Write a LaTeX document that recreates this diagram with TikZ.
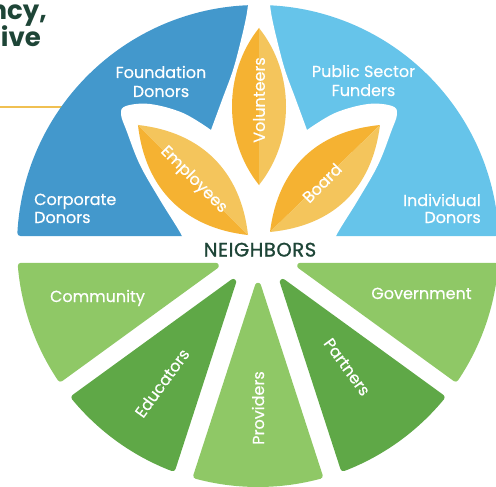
\documentclass[tikz,border=0pt]{standalone}
\usepackage{fontspec}
\setmainfont{Poppins}
\newfontfamily\lblfont{Poppins}[FakeBold=0.4]
\newfontfamily\hubfont{Poppins}[FakeBold=1.2,LetterSpace=3]
\usetikzlibrary{calc}
\definecolor{dblue}{HTML}{4398CC}
\definecolor{lblue}{HTML}{66C4EA}
\definecolor{lgreen}{HTML}{8FC866}
\definecolor{dgreen}{HTML}{5FA847}
\definecolor{dorange}{HTML}{F5B232}
\definecolor{lorange}{HTML}{F4C55C}
\definecolor{ink}{HTML}{1E4537}
\definecolor{rulecol}{HTML}{F0C052}
% green wedge: #1 start angle, #2 inset, #3 end angle, #4 inset, #5 colour, #6 name
\newcommand\gwedge[6]{%
  \pgfmathsetmacro\gwA{#2+3}\pgfmathsetmacro\gwB{#4+3}\pgfmathsetmacro\gwR{241-3}%
  \pgfmathsetmacro\gwD{sin(#3-#1)}%
  \pgfmathsetmacro\gwX{(\gwA*cos(#3)+\gwB*cos(#1))/\gwD}%
  \pgfmathsetmacro\gwY{(\gwA*sin(#3)+\gwB*sin(#1))/\gwD}%
  \pgfmathsetmacro\gwS{#1+asin(\gwA/\gwR)}%
  \pgfmathsetmacro\gwE{#3-asin(\gwB/\gwR)}%
  \filldraw[fill=#5,draw=#5,line width=6pt,line join=round]
    ($(C)+(\gwX,\gwY)$) coordinate (#6) -- ($(C)+(\gwS:\gwR)$)
    arc[start angle=\gwS,end angle=\gwE,radius=\gwR] -- cycle;}
% leaf: #1 cx, #2 cy, #3 rotation, #4 half length, #5 half width
\newcommand\drawleaf[5]{%
  \begin{scope}[shift={(#1,#2)},rotate=#3]
    \pgfmathsetmacro\lfc{#5/0.75}\pgfmathsetmacro\lfx{\lfc*1.25}%
    \fill[dorange] (-#4,0) .. controls ({-#4+\lfx},{-\lfc}) and ({#4-\lfx},{-\lfc}) .. (#4,0) -- cycle;
    \fill[lorange] (-#4,0) .. controls ({-#4+\lfx},{\lfc}) and ({#4-\lfx},{\lfc}) .. (#4,0) -- cycle;
  \end{scope}}
\tikzset{
  lbl/.style={text=white,font=\lblfont\fontsize{16}{16}\selectfont,inner sep=0pt},
  hub/.style={text=ink,font=\hubfont\fontsize{19.5}{19.5}\selectfont,inner sep=0pt},
  title/.style={text=ink,font=\fontsize{26}{26}\selectfont\bfseries,inner sep=0pt}
}
\begin{document}
\begin{tikzpicture}[x=1pt,y=-1pt]
\useasboundingbox (0,0) rectangle (496,487);
\clip (0,0) rectangle (496,487);
\coordinate (C) at (258,246);
% heading fragment and rule
\node[title,anchor=base east] (t1) at (47,20) {ncy,};
\node[title,anchor=base east] (t2) at (41,47) {tive};
\draw[rulecol,line width=2.5pt] (0,107) -- (120,107);
% blue halves
\filldraw[fill=dblue,draw=dblue,line width=6pt,line join=round]
  (258.5,233) -- ($(C)+(183.13:238)$) arc[start angle=183.13,end angle=270,radius=238] -- cycle;
\filldraw[fill=lblue,draw=lblue,line width=6pt,line join=round]
  (258.5,233) -- ($(C)+(270:238)$) arc[start angle=270,end angle=356.87,radius=238] -- cycle;
% white space around the petals
\fill[white]
  plot[smooth,tension=0.6] coordinates {(186,252) (182,236) (160,200) (140,165) (127,132) (121,114) (126,106) (150,104) (183,113) (211,130)}
  -- plot[smooth,tension=0.6] coordinates {(211,130) (222,100) (233,70) (241,40) (246,18) (248,5) (249,-3)}
  -- plot[smooth,tension=0.6] coordinates {(269,-3) (270,5) (272,18) (277,40) (285,70) (296,100) (307,130)}
  -- plot[smooth,tension=0.6] coordinates {(307,130) (335,113) (368,104) (392,106) (397,114) (391,132) (378,165) (358,200) (336,236) (332,252)}
  -- cycle;
% petals
\drawleaf{259}{106.5}{90}{78.5}{27}
\drawleaf{193}{180}{135}{77.8}{30}
\drawleaf{325}{178.5}{44.2}{76.7}{30}
% green wedges
\gwedge{144}{5.8}{180}{16.8}{lgreen}{wcom}
\gwedge{108}{9.5}{144}{11.5}{dgreen}{wedu}
\gwedge{72}{9.3}{108}{9.3}{lgreen}{wpro}
\gwedge{36}{11.5}{72}{9.5}{dgreen}{wpar}
\gwedge{0}{16.8}{36}{5.8}{lgreen}{wgov}
% labels
\node[lbl,anchor=base] (fd1) at (161,78) {Foundation};
\node[lbl,anchor=base] (fd2) at (161,97) {Donors};
\node[lbl,anchor=base] (ps1) at (363.5,77) {Public Sector};
\node[lbl,anchor=base] (ps2) at (363.5,96) {Funders};
\node[lbl,anchor=base west] (cd1) at (34,205) {Corporate};
\node[lbl,anchor=base west] (cd2) at (34,223) {Donors};
\node[lbl,anchor=base east] (id1) at (481,206) {Individual};
\node[lbl,anchor=base east] (id2) at (481,223) {Donors};
\node[lbl,rotate=90] (vol) at (259,100) {Volunteers};
\node[lbl,rotate=-45] (emp) at (193.5,180) {Employees};
\node[lbl,rotate=45] (brd) at (322,183) {Board};
\node[hub,anchor=base] (nb) at (260,256.5) {NEIGHBORS};
\node[lbl,anchor=base] (com) at (97.5,302) {Community};
\node[lbl,anchor=base] (gov) at (421.5,299) {Government};
\node[lbl,rotate=54] (edu) at (162,383) {Educators};
\node[lbl,rotate=-54] (par) at (347,367) {Partners};
\node[lbl,rotate=90] (prv) at (258,408) {Providers};
\end{tikzpicture}
\end{document}
